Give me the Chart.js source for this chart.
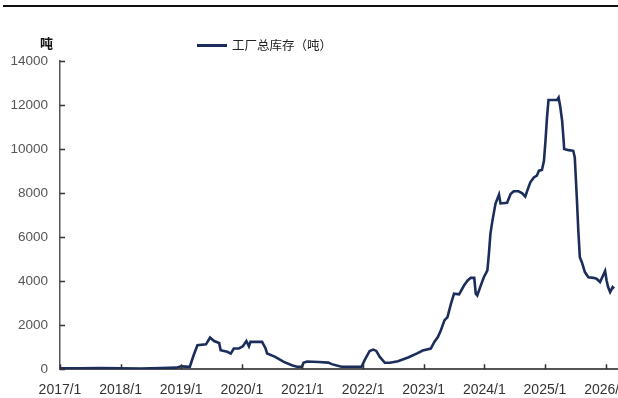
<!DOCTYPE html>
<html>
<head>
<meta charset="utf-8">
<script src="https://cdn.jsdelivr.net/npm/chart.js@4.4.1/dist/chart.umd.min.js"></script>
<style>
html, body { margin: 0; padding: 0; background: #fff; }
#wrap { position: relative; width: 618px; height: 398px; overflow: hidden; }
#topline { position: absolute; left: 3px; right: 0; top: 5px; height: 2px; background: #111; }
#box { position: absolute; left: 0; top: 0; width: 640px; height: 412px; }
#unit { position: absolute; left: 40px; top: 36px; font: bold 13px "Noto Sans CJK SC"; line-height: 14px; color: #111; }
#legend { position: absolute; left: 197px; top: 38px; font: 12.5px "Noto Sans CJK SC"; line-height: 14px; color: #222; display: flex; align-items: center; }
#legend .sw { display: inline-block; width: 30px; height: 3px; background: #1b2d5b; margin-right: 5px; }
</style>
</head>
<body>
<div id="wrap">
  <div id="topline"></div>
  <div id="box"><canvas id="myChart" width="640" height="412"></canvas></div>
  <div id="unit">吨</div>
  <div id="legend"><span class="sw"></span><span>工厂总库存（吨）</span></div>
</div>
<script>
// months counted from 2017/1
const months = [0, 4, 8, 12, 16, 20, 23, 24, 25.7, 26.4, 27.2, 28.9, 29.7, 30.5, 31.5, 31.8, 33.1, 33.8, 34.4, 35.4,
  36.2, 36.9, 37.4, 37.7, 40.0, 40.7, 41.0, 42.6, 44.3, 45.9, 46.9, 47.9, 48.2, 48.9, 51.2, 53.1, 53.8, 55.7, 59.7, 60.3,
  61.3, 62.0, 62.6, 63.3, 64.3, 65.3, 66.9, 68.9, 70.8, 71.8, 73.4, 74.1, 74.8, 75.4, 76.1, 76.7, 77.4, 78.0, 79.0, 80.0,
  80.7, 81.3, 82.0, 82.3, 82.6, 83.3, 83.9, 84.6, 84.9, 85.2, 85.6, 86.2, 86.9, 87.2, 88.5, 89.2, 89.8, 90.8, 91.5, 92.1,
  92.5, 93.1, 93.8, 94.4, 94.8, 95.4, 95.8, 96.1, 96.4, 96.7, 98.4, 98.7, 99.0, 99.4, 99.7, 99.8, 100.7, 101.6, 101.9, 102.3,
  102.6, 102.9, 103.3, 103.9, 104.6, 105.6, 106.2, 106.9, 107.5, 107.9, 108.2, 108.5, 108.9, 109.4, 109.7];
const stock = [40, 40, 50, 40, 30, 50, 70, 130, 110, 600, 1090, 1130, 1440, 1280, 1190, 860, 790, 710, 940, 940,
  1040, 1280, 1040, 1240, 1240, 940, 710, 560, 330, 180, 110, 110, 290, 350, 330, 300, 230, 110, 110, 410,
  830, 890, 830, 560, 290, 290, 360, 530, 730, 850, 940, 1240, 1460, 1770, 2220, 2370, 2980, 3430, 3400, 3810,
  4030, 4150, 4150, 3430, 3350, 3810, 4180, 4490, 5240, 6150, 6750, 7510, 7930, 7530, 7560, 7960, 8080, 8080, 7990, 7840,
  8110, 8490, 8710, 8790, 9020, 9050, 9470, 10370, 11430, 12230, 12230, 12340, 11960, 11280, 10370, 10000, 9950, 9920, 9620, 7810,
  6300, 5090, 4860, 4410, 4180, 4150, 4110, 3960, 4260, 4460, 4030, 3730, 3500, 3730, 3670];
const startYear = 2017;
const yTicks = [0, 2000, 4000, 6000, 8000, 10000, 12000, 14000];

const points = months.map((m, i) => ({ x: m, y: stock[i] }));

// short tick marks pointing into the plot
const innerTicks = {
  id: 'innerTicks',
  afterDraw(chart) {
    const { ctx, chartArea, scales } = chart;
    ctx.save();
    ctx.strokeStyle = '#333';
    ctx.lineWidth = 1.5;
    ctx.beginPath();
    scales.x.ticks.forEach(t => {
      const px = Math.round(scales.x.getPixelForValue(t.value)) + 0.5;
      ctx.moveTo(px, chartArea.bottom);
      ctx.lineTo(px, chartArea.bottom - 5);
    });
    scales.y.ticks.forEach(t => {
      const py = Math.round(scales.y.getPixelForValue(t.value)) + 0.5;
      ctx.moveTo(chartArea.left, py);
      ctx.lineTo(chartArea.left + 5, py);
    });
    ctx.stroke();
    ctx.restore();
  }
};

const config = {
  type: 'line',
  data: {
    datasets: [{
      label: '工厂总库存（吨）',
      data: points,
      borderColor: '#1b2d5b',
      backgroundColor: '#1b2d5b',
      borderWidth: 2.6,
      pointRadius: 0,
      tension: 0,
    }]
  },
  options: {
    responsive: false,
    animation: false,
    devicePixelRatio: 1,
    layout: { padding: { top: 61, right: 0, bottom: 0, left: 0 } },
    plugins: {
      legend: { display: false },
      tooltip: { enabled: false },
    },
    scales: {
      x: {
        type: 'linear',
        min: 0,
        max: 114,
        grid: { display: false, drawTicks: false },
        border: { display: true, color: '#555', width: 2 },
        ticks: {
          stepSize: 12,
          includeBounds: false,
          autoSkip: false,
          maxRotation: 0,
          padding: 13,
          color: '#333',
          font: { family: 'Liberation Sans', size: 14 },
          callback: v => (startYear + Math.round(v / 12)) + '/1',
        },
      },
      y: {
        type: 'linear',
        min: 0,
        max: 14000,
        afterFit(scale) { scale.width = 60; },
        afterBuildTicks(scale) { scale.ticks = yTicks.map(v => ({ value: v })); },
        grid: { display: false, drawTicks: false },
        border: { display: true, color: '#555', width: 1.5 },
        ticks: {
          padding: 12,
          color: '#555',
          font: { family: 'Liberation Sans', size: 13.5 },
          callback: v => String(v),
        },
      }
    }
  },
  plugins: [innerTicks]
};

const myChart = new Chart(document.getElementById('myChart'), config);
</script>
</body>
</html>
